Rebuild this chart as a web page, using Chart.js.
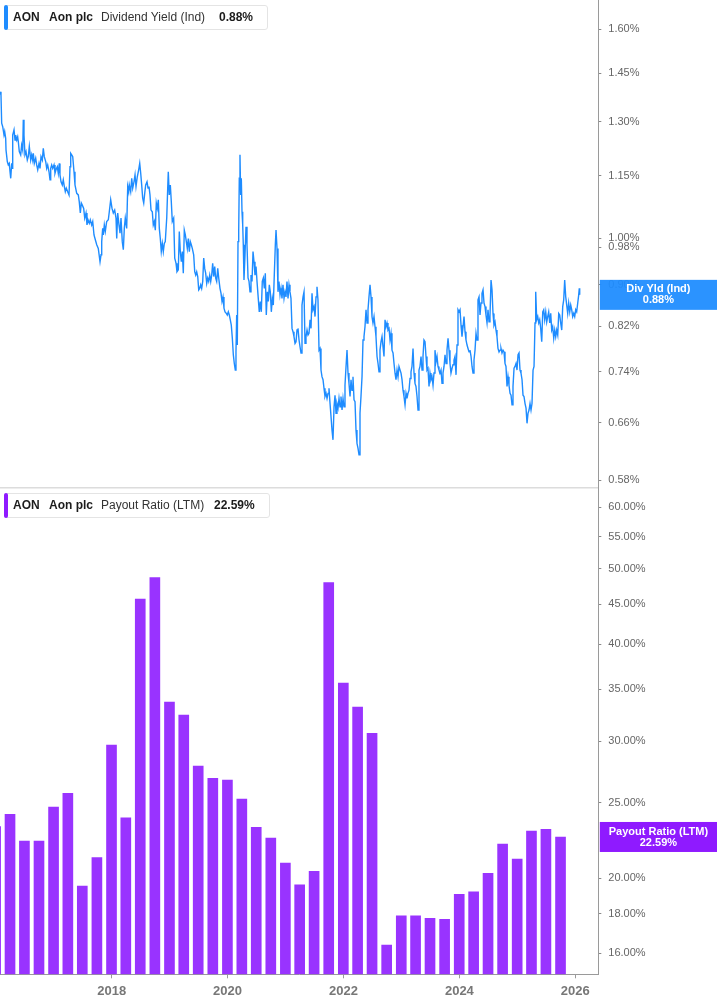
<!DOCTYPE html>
<html>
<head>
<meta charset="utf-8">
<script src="https://cdn.jsdelivr.net/npm/chart.js@4.4.1/dist/chart.umd.min.js"></script>
<style>
  html, body { margin: 0; padding: 0; background: #fff; }
  body { width: 717px; height: 1005px; position: relative; overflow: hidden; font-family: "Liberation Sans", Arial, sans-serif; }
  #topChart { position: absolute; left: 0; top: 0; }
  #bottomChart { position: absolute; left: 0; top: 487px; }
  .legend { position: absolute; left: 4px; height: 25px; background: #fff; border: 1px solid #e4e4e4; border-radius: 3px; box-sizing: border-box; font-size: 12px; color: #333; }
  .legend .bar { position: absolute; left: -1px; top: -1px; bottom: -1px; width: 3.5px; border-radius: 2px; }
  .legend span { position: absolute; top: 4px; line-height: 14px; white-space: nowrap; }
  .legend .b { font-weight: bold; color: #1c1c1c; }
</style>
</head>
<body>
<canvas id="topChart" width="717" height="487"></canvas>
<canvas id="bottomChart" width="717" height="518"></canvas>

<div class="legend" style="top:5px;width:264px">
  <div class="bar" style="background:#1e8cff"></div>
  <span class="b" style="left:8px">AON</span>
  <span class="b" style="left:44px">Aon plc</span>
  <span style="left:96px">Dividend Yield (Ind)</span>
  <span class="b" id="yieldLast" style="left:214px">0.88%</span>
</div>
<div class="legend" style="top:493px;width:266px">
  <div class="bar" style="background:#8f1aff"></div>
  <span class="b" style="left:8px">AON</span>
  <span class="b" style="left:44px">Aon plc</span>
  <span style="left:96px">Payout Ratio (LTM)</span>
  <span class="b" id="payoutLast" style="left:209px">22.59%</span>
</div>

<script>
// dividend yield (%), dates as decimal years
const yieldTimes = [
  2016.073,2016.090,2016.102,2016.120,2016.142,2016.154,2016.171,2016.177,2016.199,2016.216,
  2016.233,2016.246,2016.258,2016.275,2016.285,2016.292,2016.315,2016.332,2016.344,2016.361,
  2016.378,2016.389,2016.406,2016.430,2016.447,2016.465,2016.475,2016.487,2016.504,2016.522,
  2016.544,2016.561,2016.579,2016.603,2016.620,2016.637,2016.648,2016.665,2016.689,2016.706,
  2016.724,2016.746,2016.763,2016.781,2016.803,2016.820,2016.837,2016.862,2016.879,2016.896,
  2016.919,2016.936,2016.948,2016.965,2016.982,2017.005,2017.022,2017.039,2017.062,2017.079,
  2017.096,2017.108,2017.126,2017.148,2017.165,2017.183,2017.200,2017.217,2017.241,2017.264,
  2017.281,2017.293,2017.310,2017.328,2017.350,2017.367,2017.397,2017.424,2017.441,2017.459,
  2017.476,2017.493,2017.517,2017.535,2017.557,2017.574,2017.592,2017.614,2017.631,2017.655,
  2017.673,2017.695,2017.712,2017.742,2017.769,2017.799,2017.816,2017.828,2017.845,2017.856,
  2017.873,2017.890,2017.914,2017.942,2017.959,2017.983,2018.006,2018.028,2018.052,2018.075,
  2018.087,2018.104,2018.126,2018.144,2018.161,2018.183,2018.201,2018.218,2018.235,2018.259,
  2018.277,2018.294,2018.304,2018.328,2018.346,2018.363,2018.385,2018.403,2018.420,2018.442,
  2018.466,2018.484,2018.501,2018.518,2018.535,2018.553,2018.570,2018.587,2018.610,2018.627,
  2018.644,2018.661,2018.679,2018.701,2018.718,2018.736,2018.753,2018.770,2018.787,2018.805,
  2018.822,2018.839,2018.856,2018.874,2018.891,2018.908,2018.925,2018.950,2018.967,2018.977,
  2018.994,2019.012,2019.029,2019.046,2019.070,2019.088,2019.110,2019.127,2019.150,2019.167,
  2019.184,2019.202,2019.219,2019.236,2019.253,2019.271,2019.288,2019.305,2019.322,2019.340,
  2019.357,2019.374,2019.391,2019.415,2019.433,2019.450,2019.467,2019.485,2019.502,2019.519,
  2019.536,2019.553,2019.571,2019.588,2019.605,2019.622,2019.640,2019.657,2019.674,2019.692,
  2019.709,2019.726,2019.743,2019.761,2019.778,2019.795,2019.812,2019.830,2019.847,2019.869,
  2019.887,2019.904,2019.921,2019.938,2019.956,2019.978,2019.995,2020.013,2020.030,2020.047,
  2020.064,2020.082,2020.099,2020.116,2020.133,2020.145,2020.157,2020.168,2020.180,2020.192,
  2020.202,2020.214,2020.226,2020.237,2020.249,2020.261,2020.271,2020.283,2020.301,2020.318,
  2020.335,2020.353,2020.370,2020.387,2020.404,2020.422,2020.439,2020.456,2020.473,2020.491,
  2020.508,2020.525,2020.547,2020.565,2020.582,2020.599,2020.617,2020.634,2020.651,2020.668,
  2020.686,2020.703,2020.720,2020.737,2020.755,2020.772,2020.789,2020.806,2020.824,2020.836,
  2020.853,2020.870,2020.887,2020.905,2020.922,2020.939,2020.956,2020.974,2020.991,2021.008,
  2021.025,2021.043,2021.060,2021.077,2021.094,2021.112,2021.129,2021.146,2021.164,2021.181,
  2021.198,2021.215,2021.233,2021.250,2021.267,2021.284,2021.302,2021.319,2021.336,2021.353,
  2021.371,2021.388,2021.405,2021.423,2021.440,2021.457,2021.474,2021.492,2021.509,2021.526,
  2021.543,2021.560,2021.578,2021.595,2021.612,2021.629,2021.647,2021.664,2021.681,2021.699,
  2021.716,2021.733,2021.750,2021.768,2021.785,2021.802,2021.819,2021.837,2021.854,2021.871,
  2021.888,2021.906,2021.923,2021.940,2021.957,2021.975,2021.992,2022.009,2022.026,2022.044,
  2022.061,2022.078,2022.095,2022.113,2022.130,2022.147,2022.164,2022.182,2022.199,2022.216,
  2022.233,2022.251,2022.268,2022.285,2022.302,2022.320,2022.337,2022.354,2022.371,2022.389,
  2022.406,2022.423,2022.440,2022.458,2022.475,2022.492,2022.509,2022.527,2022.544,2022.561,
  2022.579,2022.596,2022.613,2022.630,2022.648,2022.665,2022.682,2022.699,2022.717,2022.734,
  2022.751,2022.768,2022.786,2022.803,2022.820,2022.837,2022.855,2022.872,2022.889,2022.906,
  2022.924,2022.941,2022.958,2022.975,2022.993,2023.010,2023.027,2023.044,2023.062,2023.079,
  2023.096,2023.113,2023.131,2023.148,2023.165,2023.182,2023.200,2023.217,2023.234,2023.251,
  2023.269,2023.286,2023.303,2023.320,2023.338,2023.355,2023.372,2023.389,2023.407,2023.424,
  2023.441,2023.458,2023.476,2023.493,2023.510,2023.527,2023.545,2023.562,2023.579,2023.597,
  2023.614,2023.631,2023.648,2023.666,2023.683,2023.700,2023.717,2023.735,2023.752,2023.769,
  2023.786,2023.804,2023.821,2023.838,2023.855,2023.873,2023.890,2023.907,2023.924,2023.942,
  2023.959,2023.976,2023.994,2024.011,2024.028,2024.045,2024.063,2024.080,2024.097,2024.114,
  2024.132,2024.149,2024.166,2024.183,2024.201,2024.218,2024.235,2024.252,2024.270,2024.287,
  2024.304,2024.321,2024.339,2024.356,2024.373,2024.390,2024.408,2024.425,2024.442,2024.459,
  2024.477,2024.494,2024.511,2024.528,2024.546,2024.563,2024.580,2024.597,2024.615,2024.632,
  2024.649,2024.666,2024.684,2024.701,2024.718,2024.735,2024.753,2024.770,2024.787,2024.804,
  2024.822,2024.839,2024.856,2024.874,2024.891,2024.908,2024.925,2024.943,2024.960,2024.977,
  2024.994,2025.012,2025.029,2025.046,2025.063,2025.081,2025.098,2025.115,2025.133,2025.150,
  2025.167,2025.184,2025.202,2025.219,2025.236,2025.253,2025.271,2025.288,2025.305,2025.317,
  2025.334,2025.352,2025.369,2025.386,2025.403,2025.421,2025.438,2025.455,2025.472,2025.490,
  2025.507,2025.524,2025.541,2025.559,2025.576,2025.593,2025.610,2025.628,2025.645,2025.662,
  2025.679,2025.697,2025.714,2025.731,2025.748,2025.766,2025.783,2025.800,2025.817,2025.835,
  2025.852,2025.869,2025.886,2025.904,2025.921,2025.938,2025.955,2025.973,2025.990,2026.007,
  2026.024,2026.042,2026.059,2026.069,2026.076
];
const yieldValues = [
  1.390,1.380,1.295,1.285,1.261,1.271,1.252,1.219,1.188,1.179,
  1.183,1.161,1.144,1.183,1.170,1.261,1.276,1.247,1.261,1.247,
  1.256,1.242,1.215,1.206,1.233,1.219,1.305,1.261,1.206,1.215,
  1.192,1.201,1.229,1.192,1.206,1.192,1.210,1.183,1.197,1.179,
  1.166,1.183,1.170,1.201,1.192,1.224,1.201,1.188,1.170,1.179,
  1.161,1.140,1.170,1.179,1.170,1.179,1.157,1.166,1.174,1.157,
  1.183,1.153,1.135,1.127,1.140,1.123,1.110,1.119,1.110,1.102,
  1.174,1.210,1.206,1.201,1.161,1.127,1.106,1.102,1.085,1.058,
  1.082,1.077,1.069,1.046,1.058,1.030,1.042,1.034,1.042,1.030,
  1.038,1.007,0.999,0.985,0.977,0.948,0.963,0.992,1.022,1.007,
  1.030,1.015,1.038,1.042,1.061,1.090,1.069,1.058,1.065,1.046,
  0.999,1.058,1.030,1.011,1.046,0.992,0.974,1.022,1.046,1.022,
  1.123,1.110,1.127,1.110,1.144,1.119,1.135,1.153,1.123,1.148,
  1.166,1.183,1.157,1.127,1.094,1.082,1.106,1.127,1.135,1.119,
  1.123,1.102,1.065,1.061,1.030,1.038,1.018,1.082,1.069,1.090,
  1.022,0.999,0.970,0.988,0.970,0.988,0.992,1.046,1.119,1.161,
  1.102,1.127,1.085,1.038,1.046,0.956,0.945,0.927,0.931,1.015,
  0.970,0.948,0.970,0.924,1.018,1.007,0.992,0.977,0.999,0.970,
  0.992,0.985,0.977,0.963,0.927,0.920,0.927,0.917,0.890,0.893,
  0.900,0.893,0.907,0.956,0.934,0.924,0.903,0.914,0.907,0.920,
  0.907,0.920,0.945,0.917,0.938,0.914,0.907,0.934,0.914,0.893,
  0.883,0.867,0.876,0.854,0.847,0.844,0.841,0.847,0.841,0.832,
  0.822,0.798,0.769,0.754,0.743,0.774,0.841,0.786,0.992,1.015,
  1.144,1.206,1.102,1.144,1.061,1.030,0.985,0.910,0.963,1.026,
  0.985,0.914,0.907,0.886,0.920,0.907,0.970,0.948,0.920,0.938,
  0.907,0.880,0.847,0.867,0.847,0.907,0.914,0.893,0.924,0.841,
  0.886,0.867,0.900,0.886,0.847,0.873,0.860,0.920,0.985,1.018,
  0.977,0.886,0.907,0.880,0.893,0.873,0.900,0.873,0.886,0.876,
  0.907,0.873,0.900,0.886,0.873,0.816,0.810,0.801,0.789,0.792,
  0.813,0.816,0.795,0.783,0.772,0.860,0.876,0.886,0.789,0.801,
  0.813,0.804,0.807,0.832,0.816,0.883,0.851,0.857,0.838,0.876,
  0.896,0.870,0.777,0.780,0.743,0.732,0.727,0.713,0.700,0.705,
  0.697,0.705,0.713,0.689,0.669,0.649,0.635,0.684,0.702,0.674,
  0.689,0.682,0.697,0.684,0.700,0.679,0.697,0.684,0.718,0.749,
  0.777,0.738,0.721,0.700,0.727,0.710,0.732,0.695,0.692,0.649,
  0.630,0.623,0.614,0.674,0.700,0.732,0.795,0.801,0.819,0.851,
  0.826,0.851,0.876,0.900,0.876,0.838,0.826,0.838,0.819,0.801,
  0.766,0.754,0.740,0.777,0.792,0.801,0.783,0.766,0.832,0.819,
  0.826,0.813,0.816,0.795,0.807,0.777,0.772,0.754,0.738,0.727,
  0.743,0.732,0.749,0.749,0.738,0.727,0.710,0.700,0.687,0.705,
  0.697,0.705,0.710,0.729,0.740,0.749,0.780,0.738,0.721,0.716,
  0.700,0.679,0.743,0.749,0.766,0.743,0.766,0.795,0.792,0.766,
  0.743,0.746,0.716,0.738,0.727,0.732,0.718,0.738,0.777,0.757,
  0.766,0.749,0.743,0.738,0.743,0.721,0.738,0.749,0.769,0.754,
  0.777,0.798,0.777,0.754,0.738,0.746,0.752,0.760,0.766,0.735,
  0.786,0.851,0.847,0.851,0.822,0.801,0.819,0.838,0.810,0.795,
  0.786,0.780,0.774,0.777,0.766,0.749,0.738,0.760,0.777,0.807,
  0.795,0.870,0.876,0.841,0.864,0.883,0.890,0.864,0.857,0.841,
  0.826,0.851,0.828,0.838,0.910,0.890,0.844,0.822,0.828,0.813,
  0.801,0.780,0.774,0.777,0.780,0.772,0.777,0.774,0.754,0.749,
  0.716,0.732,0.718,0.705,0.702,0.687,0.716,0.746,0.749,0.754,
  0.743,0.769,0.772,0.743,0.738,0.727,0.702,0.700,0.689,0.682,
  0.659,0.674,0.679,0.689,0.679,0.689,0.743,0.749,0.826,0.886,
  0.832,0.838,0.826,0.832,0.816,0.792,0.847,0.851,0.832,0.847,
  0.828,0.838,0.847,0.826,0.844,0.813,0.819,0.798,0.813,0.801,
  0.813,0.804,0.844,0.841,0.826,0.813,0.857,0.870,0.910,0.876,
  0.860,0.844,0.864,0.847,0.860,0.851,0.838,0.844,0.838,0.851,
  0.847,0.864,0.880,0.893,0.880
];

// payout ratio (%), one bar per fiscal quarter end
const payoutQuarters = [
  '2015-12-31',
  '2016-03-31','2016-06-30','2016-09-30','2016-12-31',
  '2017-03-31','2017-06-30','2017-09-30','2017-12-31',
  '2018-03-31','2018-06-30','2018-09-30','2018-12-31',
  '2019-03-31','2019-06-30','2019-09-30','2019-12-31',
  '2020-03-31','2020-06-30','2020-09-30','2020-12-31',
  '2021-03-31','2021-06-30','2021-09-30','2021-12-31',
  '2022-03-31','2022-06-30','2022-09-30','2022-12-31',
  '2023-03-31','2023-06-30','2023-09-30','2023-12-31',
  '2024-03-31','2024-06-30','2024-09-30','2024-12-31',
  '2025-03-31','2025-06-30','2025-09-30'
];
const payoutValues = [
  23.30,
  24.15, 22.32, 22.32, 24.68,
  25.70, 19.53, 21.26, 29.65,
  23.91, 45.70, 48.70, 33.68,
  32.41, 27.86, 26.87, 26.73,
  25.27, 23.24, 22.51, 20.91,
  19.61, 20.40, 48.00, 35.63,
  33.19, 30.70, 16.40, 17.89,
  17.89, 17.75, 17.70, 19.06,
  19.20, 20.28, 22.12, 21.16,
  22.99, 23.10, 22.59
];

const yieldTicks = [0.58, 0.66, 0.74, 0.82, 0.90, 0.98, 1.00, 1.15, 1.30, 1.45, 1.60];
const payoutTicks = [16, 18, 20, 25, 30, 35, 40, 45, 50, 55, 60];
const yearTicks = [2018, 2020, 2022, 2024, 2026];

const X_MIN = 2016.073, X_MAX = 2026.397;
const AXIS_W = 118.7;
const FONT = '"Liberation Sans", Arial, sans-serif';
Chart.defaults.font.family = FONT;

function decimalYear(s) {
  const [y, m, d] = s.split('-').map(Number);
  const t0 = Date.UTC(y, 0, 1), t1 = Date.UTC(y + 1, 0, 1);
  return y + (Date.UTC(y, m - 1, d) - t0) / (t1 - t0);
}
function fixedTicks(list) {
  return scale => { scale.ticks = list.map(v => ({ value: v })); };
}
// no extra room around the plot for overhanging labels
function noPadding(s) {
  s.paddingTop = 0; s.paddingBottom = 0; s.paddingLeft = 0; s.paddingRight = 0;
}

const yieldLast = yieldValues[yieldValues.length - 1];
const payoutLast = payoutValues[payoutValues.length - 1];
document.getElementById('yieldLast').textContent = yieldLast.toFixed(2) + '%';
document.getElementById('payoutLast').textContent = payoutLast.toFixed(2) + '%';

// value tag on the right axis
const tagPlugin = {
  id: 'tag',
  afterDraw(chart, args, opts) {
    const { ctx, chartArea, scales } = chart;
    const y = scales.y.getPixelForValue(opts.value);
    const x0 = chartArea.right + 1.5, w = chart.width - x0, h = 30;
    ctx.save();
    ctx.fillStyle = opts.color;
    ctx.fillRect(x0, y - h / 2, w, h);
    ctx.fillStyle = '#fff';
    ctx.font = 'bold 11px ' + FONT;
    ctx.textAlign = 'center';
    ctx.textBaseline = 'middle';
    ctx.fillText(opts.title, x0 + w / 2, y - 5.5);
    ctx.fillText(opts.value.toFixed(2) + '%', x0 + w / 2, y + 5.5);
    ctx.restore();
  }
};
const separatorPlugin = {
  id: 'separator',
  beforeDraw(chart) {
    const { ctx, chartArea } = chart;
    ctx.save();
    ctx.strokeStyle = '#dcdcdc';
    ctx.lineWidth = 1.5;
    ctx.beginPath();
    ctx.moveTo(0, 0.75);
    ctx.lineTo(chartArea.right, 0.75);
    ctx.stroke();
    ctx.restore();
  }
};

function yAxis(min, max, ticks) {
  return {
    type: 'logarithmic', position: 'right', min: min, max: max, bounds: 'data',
    afterBuildTicks: fixedTicks(ticks),
    afterFit: s => { s.width = AXIS_W; noPadding(s); },
    grid: { drawOnChartArea: false, tickLength: 3, color: '#8a8a8a' },
    border: { display: true, color: '#9a9a9a', width: 1 },
    ticks: { autoSkip: false, padding: 7, color: '#666', font: { size: 11 },
      callback: v => Number(v).toFixed(2) + '%' }
  };
}

new Chart(document.getElementById('topChart'), {
  type: 'line',
  data: {
    datasets: [{
      label: 'Dividend Yield (Ind)',
      data: yieldTimes.map((t, i) => ({ x: t, y: yieldValues[i] })),
      borderColor: '#1e8cff',
      borderWidth: 1.4,
      pointRadius: 0,
      tension: 0,
      fill: false
    }]
  },
  options: {
    responsive: false,
    animation: false,
    layout: { padding: 0 },
    plugins: {
      legend: { display: false },
      tooltip: { enabled: false },
      tag: { value: yieldLast, title: 'Div Yld (Ind)', color: 'rgba(30,140,255,0.94)' }
    },
    scales: {
      x: { type: 'linear', min: X_MIN, max: X_MAX, bounds: 'data', display: false },
      y: yAxis(0.571, 1.709, yieldTicks)
    }
  },
  plugins: [tagPlugin]
});

new Chart(document.getElementById('bottomChart'), {
  type: 'bar',
  data: {
    datasets: [{
      label: 'Payout Ratio (LTM)',
      data: payoutQuarters.map((q, i) => ({ x: decimalYear(q), y: payoutValues[i] })),
      backgroundColor: '#9933ff',
      borderWidth: 0,
      barThickness: 10
    }]
  },
  options: {
    responsive: false,
    animation: false,
    layout: { padding: 0 },
    plugins: {
      legend: { display: false },
      tooltip: { enabled: false },
      tag: { value: payoutLast, title: 'Payout Ratio (LTM)', color: '#8f1aff' }
    },
    scales: {
      x: {
        type: 'linear', min: X_MIN, max: X_MAX, bounds: 'data', offset: false,
        afterBuildTicks: fixedTicks(yearTicks),
        afterFit: s => { s.height = 30.7; noPadding(s); },
        grid: { drawOnChartArea: false, offset: false, tickLength: 4, color: '#9a9a9a' },
        border: { display: true, color: '#9a9a9a', width: 1 },
        ticks: { autoSkip: false, maxRotation: 0, padding: 5, color: '#777',
          font: { size: 13, weight: 'bold' }, callback: v => String(v) }
      },
      y: yAxis(15.04, 63.7, payoutTicks)
    }
  },
  plugins: [tagPlugin, separatorPlugin]
});
</script>
</body>
</html>
